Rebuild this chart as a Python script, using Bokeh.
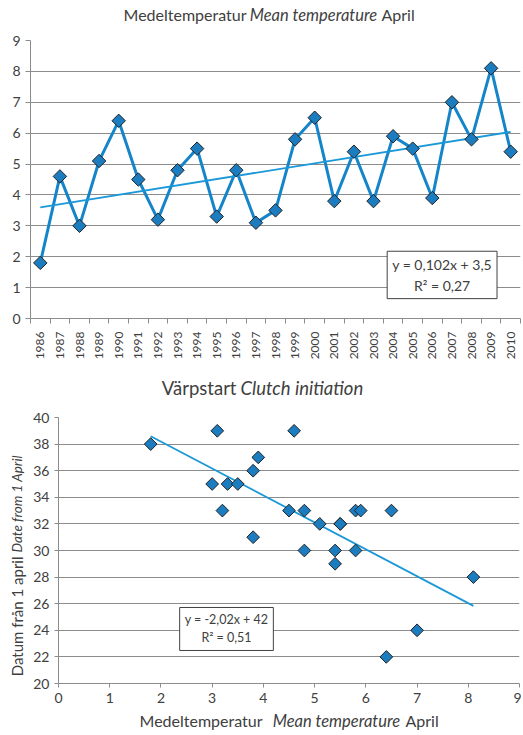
import numpy as np
from bokeh.plotting import figure
from bokeh.layouts import column, row
from bokeh.models import Range1d, FixedTicker, Label
from bokeh.core.properties import value
from bokeh.embed import file_html
from bokeh.resources import INLINE

# ---------------- data ----------------
years = list(range(1986, 2011))
temp = [1.8, 4.6, 3.0, 5.1, 6.4, 4.5, 3.2, 4.8, 5.5, 3.3, 4.8, 3.1, 3.5,
        5.8, 6.5, 3.8, 5.4, 3.8, 5.9, 5.5, 3.9, 7.0, 5.8, 8.1, 5.4]
clutch = [38, 39, 35, 32, 22, 33, 33, 33, 32, 35, 30, 39, 35,
          33, 33, 36, 30, 31, 33, 32, 37, 24, 30, 28, 29]
temp_ticks = list(range(0, 10))
clutch_ticks = list(range(20, 41, 2))
eq_top = "y = 0,102x + 3,5\nR² = 0,27"
eq_bottom = "y = -2,02x + 42\nR² = 0,51"

FONT = "Lato"
TXT = "#404040"
GRID = "#8c8c8c"
LINE = "#1585c9"
MARK = "#1c7cc0"
TREND = "#1b98d8"
W = 521


def style_axes(p):
    for ax in (p.xaxis[0], p.yaxis[0]):
        ax.axis_line_color = GRID
        ax.major_tick_line_color = GRID
        ax.minor_tick_line_color = GRID
        ax.major_tick_in = 0
        ax.minor_tick_in = 0
        ax.major_label_text_font = FONT
        ax.major_label_text_color = TXT
        ax.major_label_text_font_size = "14px"
    p.xgrid.grid_line_color = None
    p.ygrid.grid_line_color = GRID
    p.ygrid.grid_line_width = 1
    p.outline_line_color = None
    p.background_fill_color = "white"
    p.border_fill_color = "white"


def text_fig(w, h):
    f = figure(width=w, height=h, output_backend="svg", toolbar_location=None,
               x_range=Range1d(0, w), y_range=Range1d(0, h),
               x_axis_type=None, y_axis_type=None, min_border=0,
               frame_align=False)
    f.grid.grid_line_color = None
    f.outline_line_color = None
    f.background_fill_color = "white"
    f.border_fill_color = "white"
    return f


def put(f, x, y, s, align="left", italic=False, size="16px", angle=0.0):
    f.text(x=[x], y=[y], text=[s], angle=angle, text_align=align, text_baseline="middle",
           text_font=value(FONT), text_font_size=size, text_color=TXT,
           text_font_style="italic" if italic else "normal")


# ---------------- top title ----------------
t1 = text_fig(W, 32)
put(t1, 246, 18, "Medeltemperatur", "right")
put(t1, 313, 18, "Mean temperature", "center", italic=True, size="16.5px")
put(t1, 381, 18, "April", "left")

# ---------------- top chart ----------------
p1 = figure(width=W, height=336, output_backend="svg", toolbar_location=None,
            x_range=Range1d(years[0] - 0.5, years[-1] + 0.5), y_range=Range1d(0, 9),
            min_border_left=30, min_border_right=1, min_border_top=8, min_border_bottom=50,
            frame_align=False)
style_axes(p1)
p1.xaxis.ticker = FixedTicker(ticks=years, minor_ticks=[y - 0.5 for y in years] + [years[-1] + 0.5])
p1.xaxis.major_tick_out = 0
p1.xaxis.minor_tick_out = 5
p1.xaxis.major_label_orientation = np.pi / 2
p1.xaxis.major_label_text_font_size = "12px"
p1.xaxis.major_label_standoff = 8
p1.yaxis.ticker = FixedTicker(ticks=list(range(0, 10)))
p1.yaxis.major_tick_out = 5
p1.yaxis.minor_tick_out = 0

idx = np.arange(1, len(years) + 1)
k1, m1 = np.polyfit(idx, temp, 1)
p1.line(years, temp, line_color=LINE, line_width=3)
p1.line([years[0], years[-1]], [k1 * idx[0] + m1, k1 * idx[-1] + m1], line_color=TREND, line_width=1.8)
p1.scatter(years, temp, marker="square", angle=np.pi / 4, size=9.5,
           fill_color=MARK, line_color="#222222", line_width=1)

p1.add_layout(Label(x=2006.5, y=1.41, text=eq_top, text_align="center", text_baseline="middle",
                    text_font=FONT, text_font_size="14px", text_color=TXT,
                    border_line_color="#404040", border_line_width=1,
                    background_fill_color="white", padding=5))

# ---------------- bottom title ----------------
t2 = text_fig(W, 41)
put(t2, 236, 22, "Värpstart", "right", size="18.5px")
put(t2, 240, 22, "Clutch initiation", "left", italic=True, size="18.5px")

# ---------------- bottom chart ----------------
p2 = figure(width=W - 28, height=298, output_backend="svg", toolbar_location=None,
            x_range=Range1d(0, 9), y_range=Range1d(20, 40),
            min_border_left=30, min_border_right=2, min_border_top=8, min_border_bottom=24,
            frame_align=False)
style_axes(p2)
p2.xaxis.ticker = FixedTicker(ticks=temp_ticks)
p2.yaxis.ticker = FixedTicker(ticks=clutch_ticks)
p2.xaxis.major_tick_out = 4
p2.yaxis.major_tick_out = 4
p2.xaxis.minor_tick_out = 0
p2.yaxis.minor_tick_out = 0
p2.xaxis.major_label_standoff = 5

k2, m2 = np.polyfit(temp, clutch, 1)
xs = [min(temp), max(temp)]
p2.line(xs, [k2 * x + m2 for x in xs], line_color=TREND, line_width=1.8)
p2.scatter(temp, clutch, marker="square", angle=np.pi / 4, size=9,
           fill_color=MARK, line_color="#222222", line_width=1)

p2.add_layout(Label(x=3.28, y=24.1, text=eq_bottom, text_align="center", text_baseline="middle",
                    text_font=FONT, text_font_size="12.5px", text_color=TXT,
                    border_line_color="#404040", border_line_width=1,
                    background_fill_color="white", padding=5))

# y-axis title (rotated, mixed style); panel spans page y 409..707
yl = text_fig(28, 298)
put(yl, 16, 151, "Datum från 1 april", "right", size="15px", angle=np.pi / 2)
put(yl, 16, 155, "Date from 1 April", "left", italic=True, size="13.5px", angle=np.pi / 2)

# x-axis title (mixed style)
t3 = text_fig(W, 27)
put(t3, 262, 14, "Medeltemperatur", "right")
put(t3, 336, 14, "Mean temperature", "center", italic=True, size="16.5px")
put(t3, 405, 14, "April", "left")

layout = column(t1, p1, t2, row(yl, p2, spacing=0), t3, spacing=0)
open("out.html", "w").write(file_html(layout, INLINE))
